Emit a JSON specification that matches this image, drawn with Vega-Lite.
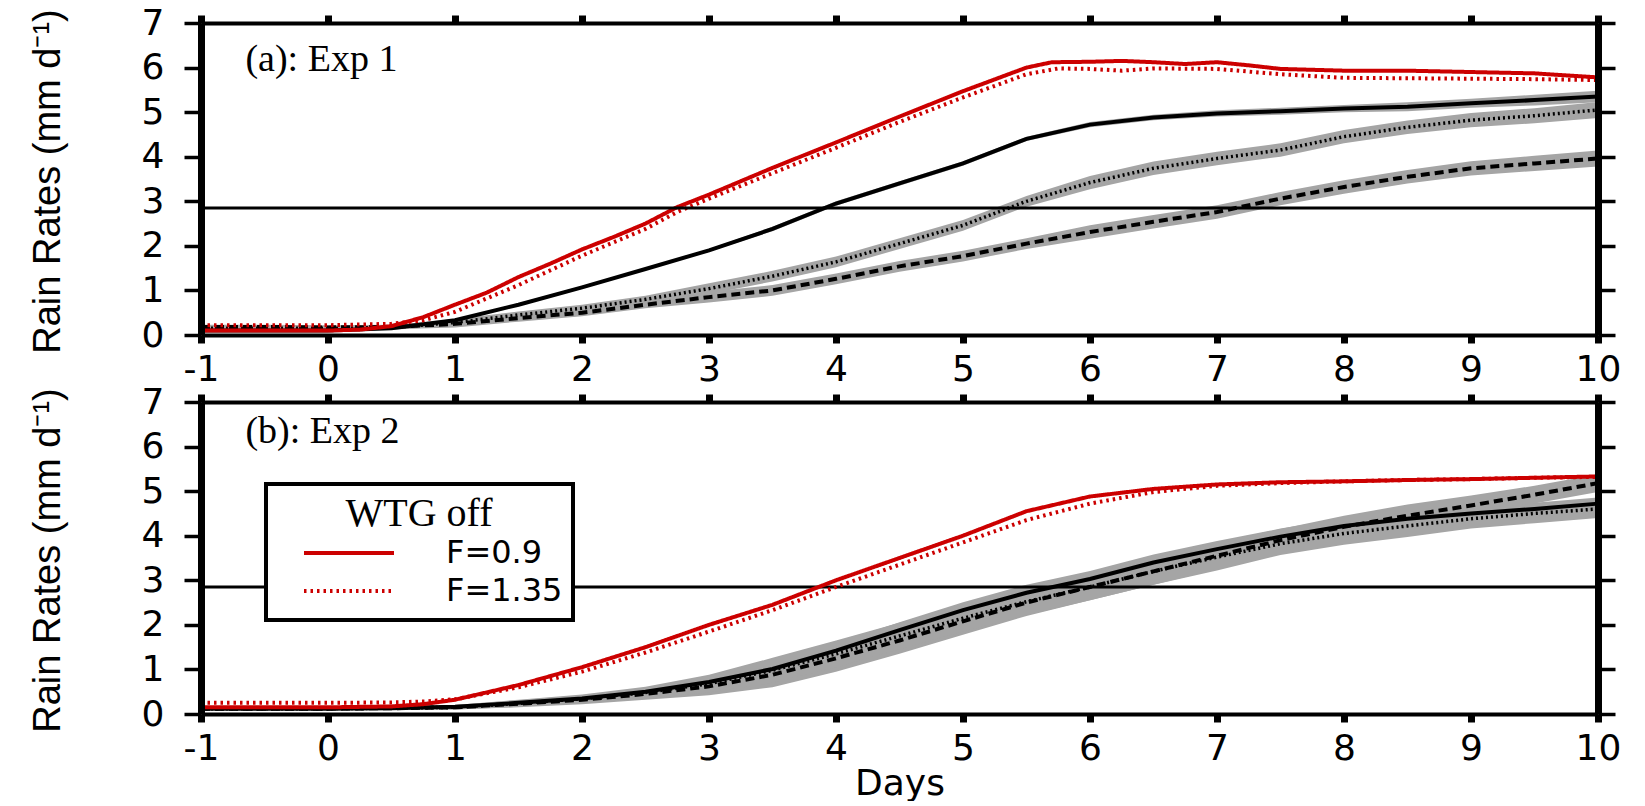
{
  "$schema": "https://vega.github.io/schema/vega-lite/v6.json",
  "padding": {"left": 28, "top": 5, "right": 0, "bottom": 0},
  "background": "white",
  "bounds": "flush",
  "spacing": 67,
  "resolve": {"scale": {"strokeDash": "independent"}, "legend": {"strokeDash": "independent"}},
  "config": {
    "view": {"stroke": null},
    "font": "DejaVu Sans",
    "axis": {"labelFont": "DejaVu Sans", "labelFontSize": 36, "labelColor": "black", "domainColor": "black", "tickColor": "black", "grid": false, "titleColor": "black", "titleFontWeight": "normal"},
    "axisX": {"domainWidth": 4, "tickWidth": 7, "tickSize": 8, "labelPadding": 9, "labelFlush": false},
    "axisY": {"domainWidth": 7, "tickWidth": 3.5, "tickSize": 17, "labelPadding": 20},
    "legend": {"strokeWidth": 4}
  },
  "data": {"values": [
    {"p":"a","run":"F=0.9","day":-1,"rain":0.1},{"p":"a","run":"F=0.9","day":-0.5,"rain":0.1},{"p":"a","run":"F=0.9","day":0,"rain":0.1},{"p":"a","run":"F=0.9","day":0.25,"rain":0.12},{"p":"a","run":"F=0.9","day":0.5,"rain":0.2},{"p":"a","run":"F=0.9","day":0.75,"rain":0.4},{"p":"a","run":"F=0.9","day":1,"rain":0.68},{"p":"a","run":"F=0.9","day":1.25,"rain":0.95},{"p":"a","run":"F=0.9","day":1.5,"rain":1.3},{"p":"a","run":"F=0.9","day":1.75,"rain":1.6},{"p":"a","run":"F=0.9","day":2,"rain":1.92},{"p":"a","run":"F=0.9","day":2.25,"rain":2.2},{"p":"a","run":"F=0.9","day":2.5,"rain":2.5},{"p":"a","run":"F=0.9","day":2.75,"rain":2.87},{"p":"a","run":"F=0.9","day":3,"rain":3.15},{"p":"a","run":"F=0.9","day":3.5,"rain":3.75},{"p":"a","run":"F=0.9","day":4,"rain":4.32},{"p":"a","run":"F=0.9","day":4.5,"rain":4.9},{"p":"a","run":"F=0.9","day":5,"rain":5.47},{"p":"a","run":"F=0.9","day":5.5,"rain":6.0},{"p":"a","run":"F=0.9","day":5.7,"rain":6.12},{"p":"a","run":"F=0.9","day":6,"rain":6.13},{"p":"a","run":"F=0.9","day":6.25,"rain":6.15},{"p":"a","run":"F=0.9","day":6.5,"rain":6.12},{"p":"a","run":"F=0.9","day":6.75,"rain":6.08},{"p":"a","run":"F=0.9","day":7,"rain":6.12},{"p":"a","run":"F=0.9","day":7.25,"rain":6.05},{"p":"a","run":"F=0.9","day":7.5,"rain":5.97},{"p":"a","run":"F=0.9","day":8,"rain":5.93},{"p":"a","run":"F=0.9","day":8.5,"rain":5.93},{"p":"a","run":"F=0.9","day":9,"rain":5.9},{"p":"a","run":"F=0.9","day":9.5,"rain":5.87},{"p":"a","run":"F=0.9","day":10,"rain":5.78},
    {"p":"a","run":"F=1.35","day":-1,"rain":0.22},{"p":"a","run":"F=1.35","day":-0.5,"rain":0.22},{"p":"a","run":"F=1.35","day":0,"rain":0.22},{"p":"a","run":"F=1.35","day":0.5,"rain":0.25},{"p":"a","run":"F=1.35","day":0.75,"rain":0.33},{"p":"a","run":"F=1.35","day":1,"rain":0.52},{"p":"a","run":"F=1.35","day":1.5,"rain":1.12},{"p":"a","run":"F=1.35","day":2,"rain":1.78},{"p":"a","run":"F=1.35","day":2.5,"rain":2.38},{"p":"a","run":"F=1.35","day":2.75,"rain":2.76},{"p":"a","run":"F=1.35","day":3,"rain":3.06},{"p":"a","run":"F=1.35","day":3.5,"rain":3.63},{"p":"a","run":"F=1.35","day":4,"rain":4.2},{"p":"a","run":"F=1.35","day":4.5,"rain":4.78},{"p":"a","run":"F=1.35","day":5,"rain":5.33},{"p":"a","run":"F=1.35","day":5.5,"rain":5.85},{"p":"a","run":"F=1.35","day":5.75,"rain":5.98},{"p":"a","run":"F=1.35","day":6,"rain":5.97},{"p":"a","run":"F=1.35","day":6.25,"rain":5.93},{"p":"a","run":"F=1.35","day":6.5,"rain":5.98},{"p":"a","run":"F=1.35","day":7,"rain":5.97},{"p":"a","run":"F=1.35","day":7.5,"rain":5.85},{"p":"a","run":"F=1.35","day":8,"rain":5.77},{"p":"a","run":"F=1.35","day":8.5,"rain":5.76},{"p":"a","run":"F=1.35","day":9,"rain":5.75},{"p":"a","run":"F=1.35","day":9.5,"rain":5.74},{"p":"a","run":"F=1.35","day":10,"rain":5.72},
    {"p":"a","run":"solid","day":-1,"rain":0.1,"lo":0.08,"hi":0.12},{"p":"a","run":"solid","day":-0.5,"rain":0.1,"lo":0.08,"hi":0.12},{"p":"a","run":"solid","day":0,"rain":0.1,"lo":0.08,"hi":0.12},{"p":"a","run":"solid","day":0.5,"rain":0.15,"lo":0.13,"hi":0.17},{"p":"a","run":"solid","day":1,"rain":0.33,"lo":0.3,"hi":0.36},{"p":"a","run":"solid","day":1.5,"rain":0.68,"lo":0.65,"hi":0.71},{"p":"a","run":"solid","day":2,"rain":1.07,"lo":1.04,"hi":1.1},{"p":"a","run":"solid","day":2.5,"rain":1.48,"lo":1.45,"hi":1.51},{"p":"a","run":"solid","day":3,"rain":1.9,"lo":1.87,"hi":1.93},{"p":"a","run":"solid","day":3.5,"rain":2.38,"lo":2.33,"hi":2.43},{"p":"a","run":"solid","day":4,"rain":2.95,"lo":2.9,"hi":3.0},{"p":"a","run":"solid","day":4.5,"rain":3.4,"lo":3.35,"hi":3.45},{"p":"a","run":"solid","day":5,"rain":3.85,"lo":3.8,"hi":3.9},{"p":"a","run":"solid","day":5.5,"rain":4.4,"lo":4.35,"hi":4.45},{"p":"a","run":"solid","day":6,"rain":4.72,"lo":4.66,"hi":4.78},{"p":"a","run":"solid","day":6.5,"rain":4.88,"lo":4.82,"hi":4.94},{"p":"a","run":"solid","day":7,"rain":4.97,"lo":4.9,"hi":5.04},{"p":"a","run":"solid","day":7.5,"rain":5.02,"lo":4.94,"hi":5.1},{"p":"a","run":"solid","day":8,"rain":5.08,"lo":5.0,"hi":5.16},{"p":"a","run":"solid","day":8.5,"rain":5.12,"lo":5.02,"hi":5.22},{"p":"a","run":"solid","day":9,"rain":5.2,"lo":5.1,"hi":5.3},{"p":"a","run":"solid","day":9.5,"rain":5.27,"lo":5.15,"hi":5.39},{"p":"a","run":"solid","day":10,"rain":5.35,"lo":5.22,"hi":5.48},
    {"p":"a","run":"dotted","day":-1,"rain":0.15,"lo":0.1,"hi":0.2},{"p":"a","run":"dotted","day":-0.5,"rain":0.15,"lo":0.1,"hi":0.2},{"p":"a","run":"dotted","day":0,"rain":0.15,"lo":0.1,"hi":0.2},{"p":"a","run":"dotted","day":0.5,"rain":0.17,"lo":0.12,"hi":0.22},{"p":"a","run":"dotted","day":1,"rain":0.28,"lo":0.2,"hi":0.36},{"p":"a","run":"dotted","day":1.5,"rain":0.45,"lo":0.37,"hi":0.53},{"p":"a","run":"dotted","day":2,"rain":0.6,"lo":0.52,"hi":0.68},{"p":"a","run":"dotted","day":2.5,"rain":0.8,"lo":0.72,"hi":0.88},{"p":"a","run":"dotted","day":3,"rain":1.04,"lo":0.92,"hi":1.16},{"p":"a","run":"dotted","day":3.5,"rain":1.32,"lo":1.2,"hi":1.44},{"p":"a","run":"dotted","day":4,"rain":1.64,"lo":1.52,"hi":1.76},{"p":"a","run":"dotted","day":4.5,"rain":2.05,"lo":1.93,"hi":2.17},{"p":"a","run":"dotted","day":5,"rain":2.46,"lo":2.34,"hi":2.58},{"p":"a","run":"dotted","day":5.5,"rain":3.0,"lo":2.88,"hi":3.12},{"p":"a","run":"dotted","day":6,"rain":3.42,"lo":3.27,"hi":3.57},{"p":"a","run":"dotted","day":6.5,"rain":3.74,"lo":3.59,"hi":3.89},{"p":"a","run":"dotted","day":7,"rain":3.96,"lo":3.81,"hi":4.11},{"p":"a","run":"dotted","day":7.5,"rain":4.15,"lo":4.0,"hi":4.3},{"p":"a","run":"dotted","day":8,"rain":4.45,"lo":4.3,"hi":4.6},{"p":"a","run":"dotted","day":8.5,"rain":4.66,"lo":4.51,"hi":4.81},{"p":"a","run":"dotted","day":9,"rain":4.82,"lo":4.66,"hi":4.98},{"p":"a","run":"dotted","day":9.5,"rain":4.92,"lo":4.75,"hi":5.09},{"p":"a","run":"dotted","day":10,"rain":5.05,"lo":4.87,"hi":5.23},
    {"p":"a","run":"dashed","day":-1,"rain":0.18,"lo":0.13,"hi":0.23},{"p":"a","run":"dashed","day":-0.5,"rain":0.18,"lo":0.13,"hi":0.23},{"p":"a","run":"dashed","day":0,"rain":0.17,"lo":0.12,"hi":0.22},{"p":"a","run":"dashed","day":0.5,"rain":0.18,"lo":0.13,"hi":0.23},{"p":"a","run":"dashed","day":1,"rain":0.25,"lo":0.17,"hi":0.33},{"p":"a","run":"dashed","day":1.5,"rain":0.38,"lo":0.3,"hi":0.46},{"p":"a","run":"dashed","day":2,"rain":0.5,"lo":0.42,"hi":0.58},{"p":"a","run":"dashed","day":2.5,"rain":0.68,"lo":0.6,"hi":0.76},{"p":"a","run":"dashed","day":3,"rain":0.85,"lo":0.73,"hi":0.97},{"p":"a","run":"dashed","day":3.5,"rain":1.0,"lo":0.88,"hi":1.12},{"p":"a","run":"dashed","day":4,"rain":1.26,"lo":1.14,"hi":1.38},{"p":"a","run":"dashed","day":4.5,"rain":1.54,"lo":1.42,"hi":1.66},{"p":"a","run":"dashed","day":5,"rain":1.77,"lo":1.65,"hi":1.89},{"p":"a","run":"dashed","day":5.5,"rain":2.05,"lo":1.93,"hi":2.17},{"p":"a","run":"dashed","day":6,"rain":2.31,"lo":2.16,"hi":2.46},{"p":"a","run":"dashed","day":6.5,"rain":2.54,"lo":2.39,"hi":2.69},{"p":"a","run":"dashed","day":7,"rain":2.76,"lo":2.61,"hi":2.91},{"p":"a","run":"dashed","day":7.5,"rain":3.06,"lo":2.91,"hi":3.21},{"p":"a","run":"dashed","day":8,"rain":3.32,"lo":3.17,"hi":3.47},{"p":"a","run":"dashed","day":8.5,"rain":3.55,"lo":3.4,"hi":3.7},{"p":"a","run":"dashed","day":9,"rain":3.74,"lo":3.58,"hi":3.9},{"p":"a","run":"dashed","day":9.5,"rain":3.85,"lo":3.68,"hi":4.02},{"p":"a","run":"dashed","day":10,"rain":3.96,"lo":3.78,"hi":4.14},
    {"p":"b","run":"F=0.9","day":-1,"rain":0.15},{"p":"b","run":"F=0.9","day":-0.5,"rain":0.15},{"p":"b","run":"F=0.9","day":0,"rain":0.15},{"p":"b","run":"F=0.9","day":0.5,"rain":0.17},{"p":"b","run":"F=0.9","day":0.75,"rain":0.22},{"p":"b","run":"F=0.9","day":1,"rain":0.32},{"p":"b","run":"F=0.9","day":1.5,"rain":0.65},{"p":"b","run":"F=0.9","day":2,"rain":1.05},{"p":"b","run":"F=0.9","day":2.5,"rain":1.5},{"p":"b","run":"F=0.9","day":3,"rain":2.0},{"p":"b","run":"F=0.9","day":3.5,"rain":2.45},{"p":"b","run":"F=0.9","day":4,"rain":3.0},{"p":"b","run":"F=0.9","day":4.5,"rain":3.5},{"p":"b","run":"F=0.9","day":5,"rain":4.0},{"p":"b","run":"F=0.9","day":5.5,"rain":4.55},{"p":"b","run":"F=0.9","day":6,"rain":4.88},{"p":"b","run":"F=0.9","day":6.5,"rain":5.05},{"p":"b","run":"F=0.9","day":7,"rain":5.15},{"p":"b","run":"F=0.9","day":7.5,"rain":5.2},{"p":"b","run":"F=0.9","day":8,"rain":5.22},{"p":"b","run":"F=0.9","day":8.5,"rain":5.25},{"p":"b","run":"F=0.9","day":9,"rain":5.27},{"p":"b","run":"F=0.9","day":9.5,"rain":5.3},{"p":"b","run":"F=0.9","day":10,"rain":5.33},
    {"p":"b","run":"F=1.35","day":-1,"rain":0.25},{"p":"b","run":"F=1.35","day":-0.5,"rain":0.25},{"p":"b","run":"F=1.35","day":0,"rain":0.25},{"p":"b","run":"F=1.35","day":0.5,"rain":0.26},{"p":"b","run":"F=1.35","day":0.75,"rain":0.28},{"p":"b","run":"F=1.35","day":1,"rain":0.33},{"p":"b","run":"F=1.35","day":1.5,"rain":0.6},{"p":"b","run":"F=1.35","day":2,"rain":0.95},{"p":"b","run":"F=1.35","day":2.5,"rain":1.38},{"p":"b","run":"F=1.35","day":3,"rain":1.85},{"p":"b","run":"F=1.35","day":3.5,"rain":2.33},{"p":"b","run":"F=1.35","day":4,"rain":2.85},{"p":"b","run":"F=1.35","day":4.5,"rain":3.35},{"p":"b","run":"F=1.35","day":5,"rain":3.85},{"p":"b","run":"F=1.35","day":5.5,"rain":4.35},{"p":"b","run":"F=1.35","day":6,"rain":4.72},{"p":"b","run":"F=1.35","day":6.5,"rain":4.98},{"p":"b","run":"F=1.35","day":7,"rain":5.12},{"p":"b","run":"F=1.35","day":7.5,"rain":5.18},{"p":"b","run":"F=1.35","day":8,"rain":5.22},{"p":"b","run":"F=1.35","day":8.5,"rain":5.25},{"p":"b","run":"F=1.35","day":9,"rain":5.27},{"p":"b","run":"F=1.35","day":9.5,"rain":5.3},{"p":"b","run":"F=1.35","day":10,"rain":5.32},
    {"p":"b","run":"solid","day":-1,"rain":0.12,"lo":0.1,"hi":0.14},{"p":"b","run":"solid","day":-0.5,"rain":0.12,"lo":0.1,"hi":0.14},{"p":"b","run":"solid","day":0,"rain":0.12,"lo":0.1,"hi":0.14},{"p":"b","run":"solid","day":0.5,"rain":0.13,"lo":0.11,"hi":0.15},{"p":"b","run":"solid","day":1,"rain":0.16,"lo":0.13,"hi":0.19},{"p":"b","run":"solid","day":1.5,"rain":0.25,"lo":0.21,"hi":0.29},{"p":"b","run":"solid","day":2,"rain":0.35,"lo":0.3,"hi":0.4},{"p":"b","run":"solid","day":2.5,"rain":0.5,"lo":0.42,"hi":0.58},{"p":"b","run":"solid","day":3,"rain":0.72,"lo":0.6,"hi":0.84},{"p":"b","run":"solid","day":3.5,"rain":1.01,"lo":0.86,"hi":1.16},{"p":"b","run":"solid","day":4,"rain":1.42,"lo":1.25,"hi":1.59},{"p":"b","run":"solid","day":4.5,"rain":1.88,"lo":1.7,"hi":2.06},{"p":"b","run":"solid","day":5,"rain":2.33,"lo":2.15,"hi":2.51},{"p":"b","run":"solid","day":5.5,"rain":2.72,"lo":2.54,"hi":2.9},{"p":"b","run":"solid","day":6,"rain":3.03,"lo":2.85,"hi":3.21},{"p":"b","run":"solid","day":6.5,"rain":3.4,"lo":3.22,"hi":3.58},{"p":"b","run":"solid","day":7,"rain":3.7,"lo":3.52,"hi":3.88},{"p":"b","run":"solid","day":7.5,"rain":3.98,"lo":3.8,"hi":4.16},{"p":"b","run":"solid","day":8,"rain":4.22,"lo":4.05,"hi":4.39},{"p":"b","run":"solid","day":8.5,"rain":4.38,"lo":4.22,"hi":4.54},{"p":"b","run":"solid","day":9,"rain":4.5,"lo":4.35,"hi":4.65},{"p":"b","run":"solid","day":9.5,"rain":4.6,"lo":4.46,"hi":4.74},{"p":"b","run":"solid","day":10,"rain":4.72,"lo":4.58,"hi":4.86},
    {"p":"b","run":"dashed","day":-1,"rain":0.12,"lo":0.09,"hi":0.15},{"p":"b","run":"dashed","day":-0.5,"rain":0.12,"lo":0.09,"hi":0.15},{"p":"b","run":"dashed","day":0,"rain":0.12,"lo":0.09,"hi":0.15},{"p":"b","run":"dashed","day":0.5,"rain":0.13,"lo":0.1,"hi":0.16},{"p":"b","run":"dashed","day":1,"rain":0.15,"lo":0.1,"hi":0.2},{"p":"b","run":"dashed","day":1.5,"rain":0.23,"lo":0.15,"hi":0.31},{"p":"b","run":"dashed","day":2,"rain":0.32,"lo":0.22,"hi":0.42},{"p":"b","run":"dashed","day":2.5,"rain":0.45,"lo":0.32,"hi":0.58},{"p":"b","run":"dashed","day":3,"rain":0.62,"lo":0.42,"hi":0.82},{"p":"b","run":"dashed","day":3.5,"rain":0.88,"lo":0.6,"hi":1.16},{"p":"b","run":"dashed","day":4,"rain":1.25,"lo":0.95,"hi":1.55},{"p":"b","run":"dashed","day":4.5,"rain":1.65,"lo":1.35,"hi":1.95},{"p":"b","run":"dashed","day":5,"rain":2.08,"lo":1.78,"hi":2.38},{"p":"b","run":"dashed","day":5.5,"rain":2.5,"lo":2.2,"hi":2.8},{"p":"b","run":"dashed","day":6,"rain":2.85,"lo":2.55,"hi":3.15},{"p":"b","run":"dashed","day":6.5,"rain":3.2,"lo":2.9,"hi":3.5},{"p":"b","run":"dashed","day":7,"rain":3.55,"lo":3.25,"hi":3.85},{"p":"b","run":"dashed","day":7.5,"rain":3.9,"lo":3.65,"hi":4.15},{"p":"b","run":"dashed","day":8,"rain":4.2,"lo":3.95,"hi":4.45},{"p":"b","run":"dashed","day":8.5,"rain":4.45,"lo":4.2,"hi":4.7},{"p":"b","run":"dashed","day":9,"rain":4.68,"lo":4.46,"hi":4.9},{"p":"b","run":"dashed","day":9.5,"rain":4.92,"lo":4.72,"hi":5.12},{"p":"b","run":"dashed","day":10,"rain":5.18,"lo":4.98,"hi":5.38},
    {"p":"b","run":"dotted","day":-1,"rain":0.12,"lo":0.09,"hi":0.15},{"p":"b","run":"dotted","day":-0.5,"rain":0.12,"lo":0.09,"hi":0.15},{"p":"b","run":"dotted","day":0,"rain":0.12,"lo":0.09,"hi":0.15},{"p":"b","run":"dotted","day":0.5,"rain":0.13,"lo":0.1,"hi":0.16},{"p":"b","run":"dotted","day":1,"rain":0.15,"lo":0.1,"hi":0.2},{"p":"b","run":"dotted","day":1.5,"rain":0.24,"lo":0.16,"hi":0.32},{"p":"b","run":"dotted","day":2,"rain":0.34,"lo":0.24,"hi":0.44},{"p":"b","run":"dotted","day":2.5,"rain":0.48,"lo":0.35,"hi":0.61},{"p":"b","run":"dotted","day":3,"rain":0.68,"lo":0.48,"hi":0.88},{"p":"b","run":"dotted","day":3.5,"rain":0.98,"lo":0.7,"hi":1.26},{"p":"b","run":"dotted","day":4,"rain":1.35,"lo":1.05,"hi":1.65},{"p":"b","run":"dotted","day":4.5,"rain":1.75,"lo":1.45,"hi":2.05},{"p":"b","run":"dotted","day":5,"rain":2.15,"lo":1.85,"hi":2.45},{"p":"b","run":"dotted","day":5.5,"rain":2.52,"lo":2.22,"hi":2.82},{"p":"b","run":"dotted","day":6,"rain":2.85,"lo":2.55,"hi":3.15},{"p":"b","run":"dotted","day":6.5,"rain":3.2,"lo":2.9,"hi":3.5},{"p":"b","run":"dotted","day":7,"rain":3.52,"lo":3.22,"hi":3.82},{"p":"b","run":"dotted","day":7.5,"rain":3.82,"lo":3.57,"hi":4.07},{"p":"b","run":"dotted","day":8,"rain":4.05,"lo":3.8,"hi":4.3},{"p":"b","run":"dotted","day":8.5,"rain":4.22,"lo":3.97,"hi":4.47},{"p":"b","run":"dotted","day":9,"rain":4.38,"lo":4.16,"hi":4.6},{"p":"b","run":"dotted","day":9.5,"rain":4.5,"lo":4.28,"hi":4.72},{"p":"b","run":"dotted","day":10,"rain":4.6,"lo":4.4,"hi":4.8}
  ]},
  "vconcat": [
    {
      "width": 1397, "height": 312,
      "resolve": {"axis": {"x": "independent", "y": "independent"}},
      "layer": [
        {"transform": [{"filter": "datum.p === 'a' && isValid(datum.lo)"}],
         "mark": {"type": "area", "color": "#a5a5a5", "opacity": 1},
         "encoding": {
           "x": {"field": "day", "type": "quantitative", "scale": {"domain": [-1, 10], "nice": false, "zero": false}, "axis": {"orient": "bottom", "values": [-1,0,1,2,3,4,5,6,7,8,9,10], "labelExpr": "'' + datum.value", "title": null, "zindex": 2}},
           "y": {"field": "lo", "type": "quantitative", "scale": {"domain": [0, 7], "nice": false}, "axis": {"orient": "left", "values": [0,1,2,3,4,5,6,7], "title": "Rain Rates (mm d⁻¹)", "titleFont": "Liberation Sans", "titleFontSize": 38, "titleX": -153, "titleY": 158, "titleAngle": -90, "titleAlign": "center", "titleBaseline": "middle", "zindex": 2}},
           "y2": {"field": "hi"},
           "detail": {"field": "run", "type": "nominal"}
         }},
        {"transform": [{"filter": "datum.p === 'a' && datum.run === 'solid'"}],
         "mark": {"type": "line", "color": "black", "strokeWidth": 4},
         "encoding": {"x": {"field": "day", "type": "quantitative", "axis": null}, "y": {"field": "rain", "type": "quantitative", "axis": null}}},
        {"transform": [{"filter": "datum.p === 'a' && datum.run === 'dotted'"}],
         "mark": {"type": "line", "color": "black", "strokeWidth": 3.5, "strokeDash": [2, 3]},
         "encoding": {"x": {"field": "day", "type": "quantitative", "axis": null}, "y": {"field": "rain", "type": "quantitative", "axis": null}}},
        {"transform": [{"filter": "datum.p === 'a' && datum.run === 'dashed'"}],
         "mark": {"type": "line", "color": "black", "strokeWidth": 4, "strokeDash": [9, 5]},
         "encoding": {"x": {"field": "day", "type": "quantitative", "axis": null}, "y": {"field": "rain", "type": "quantitative", "axis": null}}},
        {"transform": [{"filter": "datum.p === 'a' && (datum.run === 'F=0.9' || datum.run === 'F=1.35')"}],
         "mark": {"type": "line", "color": "#cc0000", "strokeWidth": 4},
         "encoding": {
           "x": {"field": "day", "type": "quantitative", "axis": {"orient": "top", "values": [-1,0,1,2,3,4,5,6,7,8,9,10], "labels": false, "title": null, "zindex": 2}},
           "y": {"field": "rain", "type": "quantitative", "axis": {"orient": "right", "values": [0,1,2,3,4,5,6,7], "labels": false, "title": null, "zindex": 2}},
           "strokeDash": {"field": "run", "type": "nominal", "scale": {"domain": ["F=0.9", "F=1.35"], "range": [[1, 0], [2.5, 4]]}, "legend": null}
         }},
        {"data": {"values": [{"threshold": 2.85}]},
         "mark": {"type": "rule", "color": "black", "strokeWidth": 3},
         "encoding": {"y": {"field": "threshold", "type": "quantitative", "axis": null}}},
        {"data": {"values": [{"label": "(a): Exp 1", "day": -0.65, "rain": 6.17}]},
         "mark": {"type": "text", "font": "Liberation Serif", "fontSize": 38, "align": "left", "baseline": "middle", "color": "black"},
         "encoding": {"x": {"field": "day", "type": "quantitative", "axis": null}, "y": {"field": "rain", "type": "quantitative", "axis": null}, "text": {"field": "label"}}}
      ]
    },
    {
      "width": 1397, "height": 312,
      "resolve": {"axis": {"x": "independent", "y": "independent"}},
      "layer": [
        {"transform": [{"filter": "datum.p === 'b' && isValid(datum.lo)"}],
         "mark": {"type": "area", "color": "#a5a5a5", "opacity": 1},
         "encoding": {
           "x": {"field": "day", "type": "quantitative", "scale": {"domain": [-1, 10], "nice": false, "zero": false}, "axis": {"orient": "bottom", "values": [-1,0,1,2,3,4,5,6,7,8,9,10], "labelExpr": "'' + datum.value", "title": "Days", "titleFont": "DejaVu Sans", "titleFontSize": 36, "titlePadding": 0, "zindex": 2}},
           "y": {"field": "lo", "type": "quantitative", "scale": {"domain": [0, 7], "nice": false}, "axis": {"orient": "left", "values": [0,1,2,3,4,5,6,7], "title": "Rain Rates (mm d⁻¹)", "titleFont": "Liberation Sans", "titleFontSize": 38, "titleX": -153, "titleY": 158, "titleAngle": -90, "titleAlign": "center", "titleBaseline": "middle", "zindex": 2}},
           "y2": {"field": "hi"},
           "detail": {"field": "run", "type": "nominal"}
         }},
        {"transform": [{"filter": "datum.p === 'b' && datum.run === 'solid'"}],
         "mark": {"type": "line", "color": "black", "strokeWidth": 4},
         "encoding": {"x": {"field": "day", "type": "quantitative", "axis": null}, "y": {"field": "rain", "type": "quantitative", "axis": null}}},
        {"transform": [{"filter": "datum.p === 'b' && datum.run === 'dotted'"}],
         "mark": {"type": "line", "color": "black", "strokeWidth": 3.5, "strokeDash": [2, 3]},
         "encoding": {"x": {"field": "day", "type": "quantitative", "axis": null}, "y": {"field": "rain", "type": "quantitative", "axis": null}}},
        {"transform": [{"filter": "datum.p === 'b' && datum.run === 'dashed'"}],
         "mark": {"type": "line", "color": "black", "strokeWidth": 4, "strokeDash": [9, 5]},
         "encoding": {"x": {"field": "day", "type": "quantitative", "axis": null}, "y": {"field": "rain", "type": "quantitative", "axis": null}}},
        {"data": {"values": [{"threshold": 2.85}]},
         "mark": {"type": "rule", "color": "black", "strokeWidth": 3},
         "encoding": {"y": {"field": "threshold", "type": "quantitative", "axis": null}}},
        {"transform": [{"filter": "datum.p === 'b' && (datum.run === 'F=0.9' || datum.run === 'F=1.35')"}],
         "mark": {"type": "line", "color": "#cc0000", "strokeWidth": 4},
         "encoding": {
           "x": {"field": "day", "type": "quantitative", "axis": {"orient": "top", "values": [-1,0,1,2,3,4,5,6,7,8,9,10], "labels": false, "title": null, "zindex": 2}},
           "y": {"field": "rain", "type": "quantitative", "axis": {"orient": "right", "values": [0,1,2,3,4,5,6,7], "labels": false, "title": null, "zindex": 2}},
           "strokeDash": {"field": "run", "type": "nominal", "scale": {"domain": ["F=0.9", "F=1.35"], "range": [[1, 0], [2.5, 4]]},
             "legend": {"title": "WTG off", "orient": "none", "legendX": 65, "legendY": 82, "direction": "vertical",
               "titleFont": "Liberation Serif", "titleFontSize": 40, "titleFontWeight": "normal", "titleColor": "black", "titleAnchor": "middle", "titlePadding": 0,
               "labelFont": "DejaVu Sans", "labelFontSize": 32, "labelColor": "black", "labelOffset": 50, "labelLimit": 400,
               "symbolType": "stroke", "symbolSize": 8100, "symbolStrokeWidth": 4, "symbolStrokeColor": "#cc0000", "symbolOffset": 26,
               "clipHeight": 38, "padding": 10, "rowPadding": 0, "strokeColor": "black", "fillColor": "white", "zindex": 3}}
         }},
        {"data": {"values": [{"label": "(b): Exp 2", "day": -0.65, "rain": 6.33}]},
         "mark": {"type": "text", "font": "Liberation Serif", "fontSize": 38, "align": "left", "baseline": "middle", "color": "black"},
         "encoding": {"x": {"field": "day", "type": "quantitative", "axis": null}, "y": {"field": "rain", "type": "quantitative", "axis": null}, "text": {"field": "label"}}}
      ]
    }
  ]
}
